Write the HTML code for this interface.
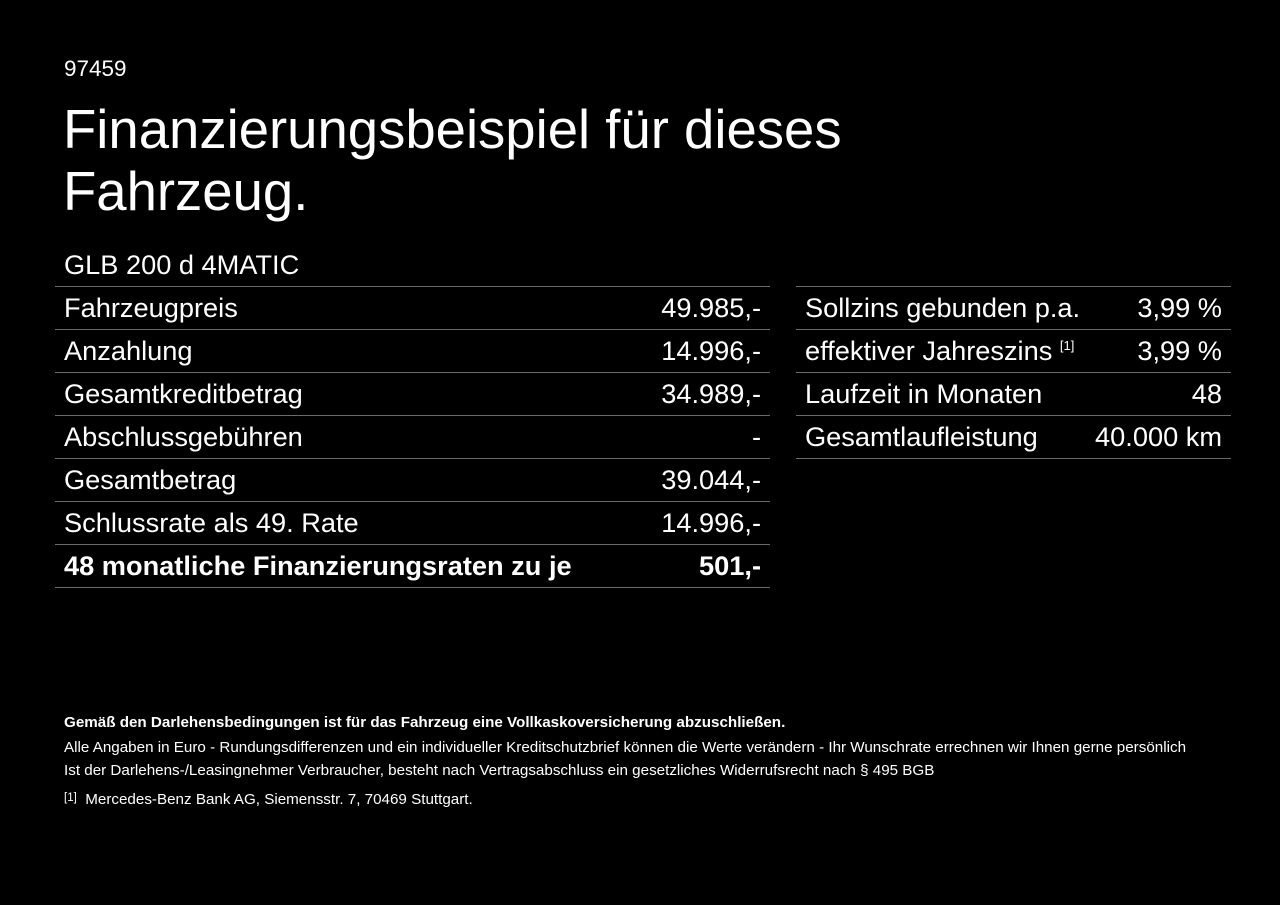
<!DOCTYPE html>
<html><head><meta charset="utf-8"><style>
body{margin:0;width:1280px;height:905px;background:#000;color:#fff;font-family:"Liberation Sans",Arial,sans-serif;position:relative;overflow:hidden}
.a{position:absolute;white-space:nowrap}
.row{position:absolute;height:42px;border-bottom:1px solid #6a6a6a;font-size:27.2px;line-height:42px}
.row span{position:absolute;top:0px}
.l{left:9px}.r{right:9px}
sup{font-size:13px;vertical-align:0;position:relative;top:-10px}
.fn{font-size:15.2px}
</style></head><body>
<div class="a" style="left:64px;top:56px;font-size:22.5px">97459</div>
<div class="a" style="left:63px;top:99px;font-size:54.5px;line-height:62px">Finanzierungsbeispiel für dieses<br>Fahrzeug.</div>
<div class="a" style="left:64px;top:249px;font-size:27.2px">GLB 200 d 4MATIC</div>
<div class="a" style="left:55px;top:286px;width:715px;border-top:1px solid #6a6a6a"></div>
<div class="a" style="left:796px;top:286px;width:435px;border-top:1px solid #6a6a6a"></div>

<div class="row" style="left:55px;width:715px;top:287px"><span class="l">Fahrzeugpreis</span><span class="r">49.985,-</span></div>
<div class="row" style="left:55px;width:715px;top:330px"><span class="l">Anzahlung</span><span class="r">14.996,-</span></div>
<div class="row" style="left:55px;width:715px;top:373px"><span class="l">Gesamtkreditbetrag</span><span class="r">34.989,-</span></div>
<div class="row" style="left:55px;width:715px;top:416px"><span class="l">Abschlussgebühren</span><span class="r">-</span></div>
<div class="row" style="left:55px;width:715px;top:459px"><span class="l">Gesamtbetrag</span><span class="r">39.044,-</span></div>
<div class="row" style="left:55px;width:715px;top:502px"><span class="l">Schlussrate als 49. Rate</span><span class="r">14.996,-</span></div>
<div class="row" style="left:55px;width:715px;top:545px;font-weight:bold"><span class="l">48 monatliche Finanzierungsraten zu je</span><span class="r">501,-</span></div>

<div class="row" style="left:796px;width:435px;top:287px"><span class="l">Sollzins gebunden p.a.</span><span class="r">3,99 %</span></div>
<div class="row" style="left:796px;width:435px;top:330px"><span class="l">effektiver Jahreszins <sup>[1]</sup></span><span class="r">3,99 %</span></div>
<div class="row" style="left:796px;width:435px;top:373px"><span class="l">Laufzeit in Monaten</span><span class="r">48</span></div>
<div class="row" style="left:796px;width:435px;top:416px"><span class="l">Gesamtlaufleistung</span><span class="r">40.000 km</span></div>

<div class="a fn" style="left:64px;top:714px;font-weight:bold">Gemäß den Darlehensbedingungen ist für das Fahrzeug eine Vollkaskoversicherung abzuschließen.</div>
<div class="a fn" style="left:64px;top:739px">Alle Angaben in Euro - Rundungsdifferenzen und ein individueller Kreditschutzbrief können die Werte verändern - Ihr Wunschrate errechnen wir Ihnen gerne persönlich</div>
<div class="a fn" style="left:64px;top:762px">Ist der Darlehens-/Leasingnehmer Verbraucher, besteht nach Vertragsabschluss ein gesetzliches Widerrufsrecht nach § 495 BGB</div>
<div class="a fn" style="left:64px;top:791px"><span style="font-size:11.5px;position:relative;top:-3px">[1]</span>&nbsp; Mercedes-Benz Bank AG, Siemensstr. 7, 70469 Stuttgart.</div>
</body></html>
